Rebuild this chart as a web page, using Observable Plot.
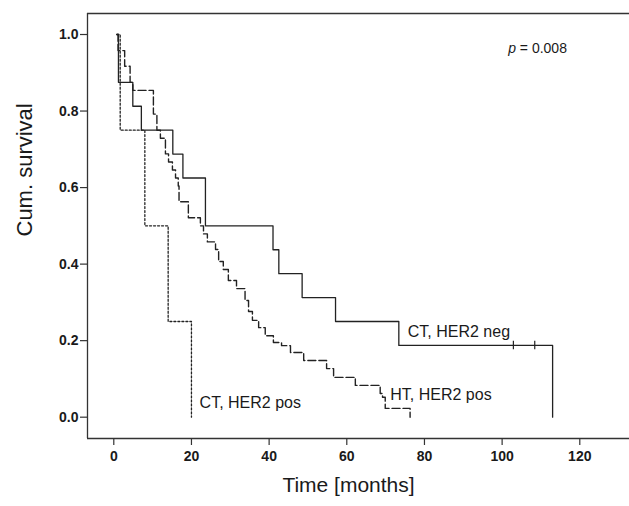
<!DOCTYPE html>
<html>
<head>
<meta charset="utf-8">
<script src="https://cdn.jsdelivr.net/npm/d3@7"></script>
<script src="https://cdn.jsdelivr.net/npm/@observablehq/plot@0.6"></script>
<style>
  html, body { margin: 0; padding: 0; background: #fff; }
  #chart { width: 629px; height: 506px; }
</style>
</head>
<body>
<div id="chart"></div>
<script>
// ---- data ----
const ctNegTime = [0.8, 1.2, 4.9, 7.1, 15.2, 17.8, 23.6, 41.0, 42.5, 48.5, 57.1, 73.4, 113.0];
const ctNegSurv = [1.0, 0.875, 0.8125, 0.75, 0.6875, 0.625, 0.5, 0.4375, 0.375, 0.3125, 0.25, 0.1875, 0.0];
const ctNegCensorTime = [102.9, 108.4];
const ctNegCensorSurv = [0.1875, 0.1875];

const ctPosTime = [0.8, 1.65, 8.0, 14.0, 20.0];
const ctPosSurv = [1.0, 0.75, 0.5, 0.25, 0.0];

const htPosTime = [0.8, 1.1, 2.8, 4.2, 4.9, 10.2, 11.1, 12.0, 13.3, 14.1, 15.1, 15.9, 16.6, 16.8, 19.2, 22.3, 23.1, 24.1, 26.2, 27.0, 28.2, 29.5, 31.6, 33.8, 34.7, 35.7, 37.3, 39.0, 41.1, 43.2, 45.5, 48.9, 54.8, 56.6, 62.2, 68.6, 69.2, 69.9, 76.3];
const htPosSurv = [1.0, 0.958, 0.917, 0.875, 0.854, 0.792, 0.750, 0.729, 0.688, 0.667, 0.646, 0.625, 0.604, 0.563, 0.521, 0.500, 0.479, 0.458, 0.438, 0.407, 0.386, 0.357, 0.336, 0.305, 0.276, 0.253, 0.234, 0.213, 0.195, 0.187, 0.169, 0.148, 0.127, 0.104, 0.083, 0.062, 0.052, 0.023, 0.0];

const xTicks = [0, 20, 40, 60, 80, 100, 120];
const yTicks = [0.0, 0.2, 0.4, 0.6, 0.8, 1.0];

const seriesLabels = ["CT, HER2 neg", "HT, HER2 pos", "CT, HER2 pos"];
const labelTime = [75.7, 71.2, 22.1];
const labelSurv = [0.224, 0.057, 0.037];

const pText = "p";
const pValueText = "= 0.008";
const pTime = 101.6;
const pSurv = 0.963;

const xTitle = "Time [months]";
const yTitle = "Cum. survival";

const xDomain = [-6.77, 132.8];
const yDomain = [-0.0557, 1.0549];

// ---- build tables ----
const toRows = (t, s) => t.map((d, i) => ({time: d, surv: s[i]}));
const ctNeg = toRows(ctNegTime, ctNegSurv);
const ctPos = toRows(ctPosTime, ctPosSurv);
const htPos = toRows(htPosTime, htPosSurv);
const censors = toRows(ctNegCensorTime, ctNegCensorSurv);
const labels = seriesLabels.map((d, i) => ({text: d, time: labelTime[i], surv: labelSurv[i]}));

const font = "'Liberation Sans', Arial, Helvetica, sans-serif";
const ink = "#1a1a1a";

const chart = Plot.plot({
  width: 629,
  height: 506,
  marginLeft: 87,
  marginTop: 13,
  marginBottom: 68,
  marginRight: 0,
  style: {fontFamily: font, background: "#fff", color: ink},
  x: {domain: xDomain},
  y: {domain: yDomain},
  marks: [
    Plot.ruleX([xDomain[0]], {stroke: "#333", strokeWidth: 1.3}),
    Plot.ruleY(yDomain, {stroke: "#333", strokeWidth: 1.3}),
    Plot.axisX({ticks: xTicks, tickSize: 7, tickPadding: 6, tickFormat: d3.format("d"), fontSize: 14, fontWeight: "bold", label: null, stroke: "#333", strokeWidth: 1.2}),
    Plot.axisY({ticks: yTicks, tickSize: 7, tickPadding: 2, tickFormat: d3.format(".1f"), fontSize: 14, fontWeight: "bold", label: null, stroke: "#333", strokeWidth: 1.2}),
    Plot.line(ctPos, {x: "time", y: "surv", curve: "step-after", stroke: "#222", strokeWidth: 1.3, strokeDasharray: "2,2"}),
    Plot.line(htPos, {x: "time", y: "surv", curve: "step-after", stroke: "#222", strokeWidth: 1.4, strokeDasharray: "8,3"}),
    Plot.line(ctNeg, {x: "time", y: "surv", curve: "step-after", stroke: "#222", strokeWidth: 1.3}),
    Plot.ruleX(censors, {x: "time", y1: d => d.surv - 0.011, y2: d => d.surv + 0.011, stroke: "#222", strokeWidth: 1.2}),
    Plot.text(labels, {x: "time", y: "surv", text: "text", textAnchor: "start", fontSize: 16, fill: ink}),
    Plot.text([pText], {x: pTime, y: pSurv, text: d => d, textAnchor: "start", fontSize: 14, fontStyle: "italic", fill: ink}),
    Plot.text([pValueText], {x: pTime, y: pSurv, text: d => d, textAnchor: "start", dx: 11.5, fontSize: 14, fill: ink}),
    Plot.text([xTitle], {frameAnchor: "bottom", text: d => d, dx: -10, dy: 53, fontSize: 21, fill: ink}),
    Plot.text([yTitle], {frameAnchor: "left", text: d => d, dx: -63, dy: 10.5, rotate: -90, fontSize: 22, fill: ink})
  ]
});
document.getElementById("chart").appendChild(chart);
</script>
</body>
</html>
